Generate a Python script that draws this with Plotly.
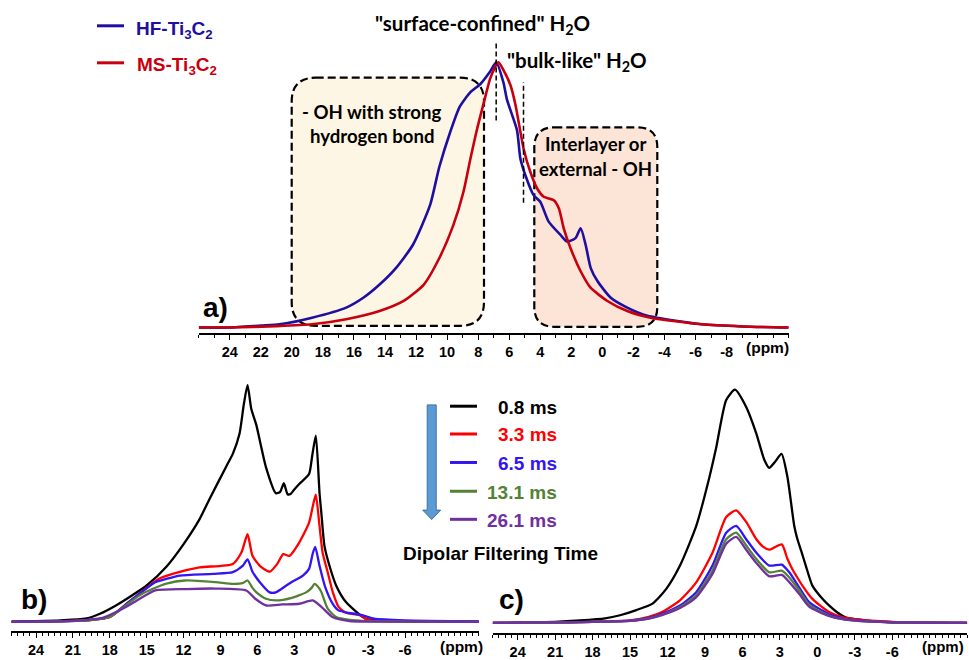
import plotly.graph_objects as go

W, H = 969, 660

# ---------------- panel a) data (ppm, intensity, peak = 100) ----------------
a_hf_ppm = [26, 24, 22, 20.8, 18.7, 16.5, 15.4, 14.35, 13.3, 12.2, 11.1, 10.5, 9.8, 9.2, 8.5, 7.87, 7.23, 6.84,
            6.37, 6.15, 5.5, 5.28, 4.96, 4.43, 4.0, 3.46, 2.7, 2.27, 1.73, 1.4, 1.08, 0.75, 0.32, -0.54, -1.6,
            -2.9, -6.4, -9, -12]
a_hf_int = [0, 0, 0.75, 1.2, 3.7, 7.5, 11.2, 16.2, 22.4, 31.2, 46.1, 60.6, 73.7, 83.1, 88.7, 91.7, 96.5, 100,
            92.3, 86.0, 74.4, 63.6, 57.4, 49.9, 47.4, 39.9, 34.9, 32.4, 33.7, 37.4, 31.2, 22.4, 17.5, 11.2, 7.5,
            4.4, 1.2, 0.4, 0]
a_ms_ppm = [26, 24, 21, 18.7, 16.5, 14.35, 12.8, 11.5, 10.5, 9.6, 8.95, 8.5, 8.1, 7.66, 7.2, 6.7, 6.37, 5.93,
            5.6, 5.07, 4.64, 4.2, 3.78, 3.13, 2.8, 2.49, 2.05, 1.4, 0.76, -0.32, -1.6, -3.1, -6.4, -9, -12]
a_ms_int = [0, 0, 0.5, 1.2, 3.1, 6.2, 10.0, 16.2, 26.2, 38.6, 51.1, 63.6, 74.1, 84.2, 94.3, 100, 97.0, 91.5,
            84.0, 67.3, 58.6, 52.4, 49.3, 48.0, 44.9, 37.4, 29.9, 21.2, 15.0, 10.0, 6.2, 3.7, 1.2, 0.4, 0]

# ---------------- panel b) data ----------------
b_black_ppm = [26, 24, 22, 20, 18.8, 17.5, 16.2, 15.0, 13.4, 12.1, 10.7, 9.9, 8.5, 8.0, 7.45, 7.1, 6.8, 6.5,
               6.1, 5.3, 4.5, 4.15, 3.85, 3.55, 3.3, 3.0, 2.6, 1.8, 1.55, 1.25, 0.95, 0.8, 0.55, 0.14, -0.4,
               -1.2, -2.8, -4, -6, -9, -12]
b_black_int = [0.3, 0.5, 0.8, 1.5, 3.6, 7.1, 11.3, 15.5, 23.4, 32.2, 43.5, 51.9, 66.0, 71.0, 79.6, 92, 100, 90,
               83.4, 65.3, 54.4, 55, 58.6, 54, 54.1, 56, 58.3, 62.5, 70, 78.7, 54.5, 46, 32.2, 23.8, 15.5,
               8.5, 1.5, 0.8, 0.5, 0.4, 0.3]
b_red_ppm = [26, 22, 19.5, 18, 16.7, 15.6, 14.0, 12.9, 10.7, 8.0, 7.3, 6.8, 6.4, 5.8, 5.0, 4.4, 3.9, 3.4, 2.6,
             1.8, 1.45, 1.25, 0.95, 0.7, 0.28, -0.13, -0.6, -1.2, -2.3, -3, -6, -12]
b_red_int = [0.2, 0.4, 1.0, 2.2, 7.5, 12, 18.3, 20.4, 23.1, 24.6, 29.4, 37.1, 28, 23.8, 21.3, 24.5, 28.7, 28,
             33.6, 42, 50, 53.8, 40.6, 29.4, 21, 12.7, 6.5, 4.0, 3.0, 1.0, 0.4, 0.2]
b_blue_ppm = [26, 22, 19.5, 18, 16.7, 15.6, 14.3, 13.4, 12.3, 9.6, 8.0, 7.2, 6.8, 6.4, 5.8, 5.0, 4.5, 3.7, 3.2,
              2.3, 1.8, 1.5, 1.3, 0.95, 0.5, -0.1, -0.6, -1.2, -2.5, -3.5, -6, -12]
b_blue_int = [0.3, 0.5, 1.0, 2.2, 7.5, 12, 16.9, 18.3, 19.7, 20.4, 21.1, 23.8, 26.5, 21.3, 16.9, 12.6, 12.6,
              15.3, 17, 19.7, 22.5, 29, 31.8, 23.8, 15, 8, 5.0, 4.2, 3.0, 1.5, 0.8, 0.4]
b_green_ppm = [26, 22, 19.5, 18, 16.7, 15.6, 14.5, 13.4, 11.9, 9.4, 8.0, 7.2, 6.8, 6.4, 6.1, 5.3, 4.5, 3.2, 2.0,
               1.6, 1.35, 1.0, 0.8, 0.28, -0.4, -1.5, -3, -6, -12]
b_green_int = [0.2, 0.4, 0.9, 2.2, 7.1, 11.3, 14.1, 16.3, 17.6, 16.9, 16.2, 16.5, 17.6, 14.5, 12.7, 9.9, 9.2,
               10.3, 12.7, 14.5, 16.2, 14.5, 12.7, 5.7, 2.2, 1.0, 0.5, 0.3, 0.2]
b_purple_ppm = [26, 22, 20, 18.6, 17.4, 16.2, 14.3, 11.8, 9.4, 6.9, 6.2, 5.3, 4.0, 2.6, 1.5, 0.8, -0.1, -1.5,
                -3, -6, -12]
b_purple_int = [0.2, 0.4, 0.9, 1.8, 4.5, 7.9, 13.4, 14.0, 14.2, 13.4, 10.0, 7.1, 7.5, 7.8, 9.2, 6.5, 2.2, 0.5,
                0.3, 0.3, 0.2]

# ---------------- panel c) data ----------------
c_black_ppm = [26, 24.4, 21, 19, 17, 15.8, 14.5, 13.2, 12.1, 11.0, 9.7, 8.65, 8.1, 7.3, 6.6, 5.7, 4.9, 4.25,
               3.85, 3.4, 2.87, 2.4, 1.85, 1.6, 1.3, 0.93, 0.4, -0.3, -0.93, -1.6, -2.3, -4, -6, -9, -12]
c_black_int = [0, 0.1, 0.5, 1.1, 2.0, 3.3, 5.5, 8.3, 14.6, 24.6, 41.6, 62.4, 75.2, 95.6, 100, 92.6, 81.4, 70,
               66.5, 69, 72.5, 62.7, 41.6, 36, 31, 24.6, 16, 11, 7.5, 4.5, 2.3, 1.0, 0.3, 0.1, 0]
c_red_ppm = [26, 20, 18, 15, 13.5, 12.4, 11, 9.7, 8.4, 7.3, 6.5, 5.7, 4.9, 4.3, 3.85, 2.85, 2.4, 2.0, 1.7, 1.2,
             0.4, -0.9, -2, -3, -6, -12]
c_red_int = [0, 0.3, 0.5, 1.1, 2.6, 4.8, 9.7, 17.4, 30.1, 45.4, 48.3, 43.3, 36.0, 32.5, 31.4, 33.7, 27.5, 23,
             20.3, 16.0, 10.3, 4.8, 2.5, 1.6, 0.5, 0]
c_ppm = [26, 20, 18, 15, 13.5, 12.4, 11, 9.7, 8.4, 7.3, 6.5, 5.7, 4.9, 3.85, 2.85, 2.25, 1.46, 0.66, -0.9, -2,
         -3, -6, -12]
c_blue_int = [0, 0.3, 0.5, 1.0, 2.2, 4.0, 7.5, 13.2, 24.6, 38.7, 41.6, 35.9, 30.2, 24.6, 25.0, 21.7, 15.3, 8.9,
              3.8, 2.0, 1.2, 0.3, 0]
c_green_int = [0, 0.3, 0.5, 0.9, 2.0, 3.6, 6.8, 11.9, 22.5, 35.9, 38.7, 33.2, 27.5, 21.7, 22.4, 19.5, 14.0,
               7.8, 3.2, 1.7, 1.0, 0.3, 0]
c_purple_int = [0, 0.3, 0.5, 0.9, 1.9, 3.5, 6.4, 11.0, 21.0, 34.0, 36.9, 31.4, 25.8, 20.0, 20.6, 17.5, 12.5,
                7.0, 3.0, 1.6, 1.0, 0.3, 0]

# ---------------- labels ----------------
a_tick_vals = [24, 22, 20, 18, 16, 14, 12, 10, 8, 6, 4, 2, 0, -2, -4, -6, -8]
a_tick_text = ["24", "22", "20", "18", "16", "14", "12", "10", "8", "6", "4", "2", "0", "-2", "-4", "-6", "-8"]
bc_tick_vals = [24, 21, 18, 15, 12, 9, 6, 3, 0, -3, -6]
bc_tick_text = ["24", "21", "18", "15", "12", "9", "6", "3", "0", "-3", "-6"]
series_names = ["0.8 ms", "3.3 ms", "6.5 ms", "13.1 ms", "26.1 ms"]
series_colors = ["#000000", "#FF0000", "#3314F2", "#548235", "#7030A0"]
HF_COLOR = "#1E0FA0"
MS_COLOR = "#C8000E"

ARIAL = "Liberation Sans, Arial, sans-serif"
CALIBRI = "Lato, Open Sans, sans-serif"

fig = go.Figure()


def add(xs, ys, color, xa, ya, width=2.3):
    fig.add_trace(go.Scatter(x=xs, y=ys, mode="lines", xaxis=xa, yaxis=ya, showlegend=False,
                             hoverinfo="skip",
                             line=dict(color=color, width=width, shape="spline", smoothing=0.6)))


add(a_hf_ppm, a_hf_int, HF_COLOR, "x", "y", 2.6)
add(a_ms_ppm, a_ms_int, MS_COLOR, "x", "y", 2.6)

b_sets = [(b_black_ppm, b_black_int), (b_red_ppm, b_red_int), (b_blue_ppm, b_blue_int),
          (b_green_ppm, b_green_int), (b_purple_ppm, b_purple_int)]
for (xs, ys), col in zip(b_sets, series_colors):
    add(xs, ys, col, "x2", "y2", 2.3)

c_sets = [(c_black_ppm, c_black_int), (c_red_ppm, c_red_int), (c_ppm, c_blue_int),
          (c_ppm, c_green_int), (c_ppm, c_purple_int)]
for (xs, ys), col in zip(c_sets, series_colors):
    add(xs, ys, col, "x3", "y3", 2.3)

tickfont = dict(family=ARIAL, size=14.5, color="black", weight="bold")


def xax(domain, anchor, vals, text, minor_dtick):
    return dict(domain=domain, anchor=anchor, range=[26, -12], showline=True, linecolor="black",
                linewidth=1.5, ticks="outside", ticklen=5, tickwidth=1.2, tickcolor="black",
                tickmode="array", tickvals=vals, ticktext=text, tickfont=tickfont,
                showgrid=False, zeroline=False, fixedrange=True,
                minor=dict(ticks="outside", ticklen=3, tickwidth=1, tickcolor="black",
                           tickmode="linear", tick0=0, dtick=minor_dtick, showgrid=False))


def yax(domain, rng):
    return dict(domain=domain, range=rng, visible=False, fixedrange=True)


def P(x, y):
    return x / W, 1 - y / H


shapes = []


def rounded(x0, y0, x1, y1, r, fill):
    def p(x, y):
        X, Y = P(x, y)
        return f"{X:.5f},{Y:.5f}"
    path = (f"M {p(x0 + r, y0)} L {p(x1 - r, y0)} Q {p(x1, y0)} {p(x1, y0 + r)} "
            f"L {p(x1, y1 - r)} Q {p(x1, y1)} {p(x1 - r, y1)} L {p(x0 + r, y1)} "
            f"Q {p(x0, y1)} {p(x0, y1 - r)} L {p(x0, y0 + r)} Q {p(x0, y0)} {p(x0 + r, y0)} Z")
    shapes.append(dict(type="path", xref="paper", yref="paper", path=path, fillcolor=fill,
                       line=dict(color="black", width=2.2, dash="8px,4px"), layer="below"))


rounded(291.7, 78.3, 484, 328.3, 24, "#FDF6E4")
rounded(534.3, 128.3, 657.3, 329.3, 20, "#FCE4D6")

# dashed markers in panel a (data coordinates)
shapes.append(dict(type="line", xref="x", yref="y", x0=6.84, x1=6.84, y0=78, y1=108,
                   line=dict(color="black", width=1.5, dash="5px,3px")))
shapes.append(dict(type="line", xref="x", yref="y", x0=5.08, x1=5.08, y0=47, y1=92.5,
                   line=dict(color="black", width=1.5, dash="5px,3px")))

# legend lines for panel a
for yy, col in [(26, HF_COLOR), (63.3, MS_COLOR)]:
    x0, y0 = P(97, yy)
    x1, _ = P(124, yy)
    shapes.append(dict(type="line", xref="paper", yref="paper", x0=x0, x1=x1, y0=y0, y1=y0,
                       line=dict(color=col, width=3)))

# legend lines for panel b/c
leg_y = [409.3, 437.3, 466, 495, 523.3]
for yy, col in zip(leg_y, series_colors):
    x0, y0 = P(450, yy)
    x1, _ = P(477, yy)
    shapes.append(dict(type="line", xref="paper", yref="paper", x0=x0, x1=x1, y0=y0, y1=y0,
                       line=dict(color=col, width=3)))


def ap(x, y):
    X, Y = P(x, y)
    return f"{X:.5f},{Y:.5f}"


arrow = (f"M {ap(427.2, 408)} L {ap(436.2, 408)} L {ap(436.2, 514)} L {ap(440.7, 514)} "
         f"L {ap(431.7, 523.5)} L {ap(422.7, 514)} L {ap(427.2, 514)} Z")
shapes.append(dict(type="path", xref="paper", yref="paper", path=arrow, fillcolor="#5B9BD5",
                   line=dict(color="#41719C", width=1)))

annotations = []


def text(x, y, t, size, color="black", family=ARIAL, xanchor="center"):
    X, Y = P(x, y)
    annotations.append(dict(x=X, y=Y, xref="paper", yref="paper", text=t, showarrow=False,
                            xanchor=xanchor, yanchor="middle",
                            font=dict(family=family, size=size, color=color)))


text(482, 25, '<b>"surface-confined" H<sub>2</sub>O</b>', 20.5, family=CALIBRI)
text(577, 62, '<b>"bulk-like" H<sub>2</sub>O</b>', 20.5, family=CALIBRI)
text(371.7, 113, "<b>- OH with strong</b>", 18.6, family=CALIBRI)
text(371.7, 137, "<b>hydrogen bond</b>", 18.6, family=CALIBRI)
text(595, 145, "<b>Interlayer or</b>", 18.6, family=CALIBRI)
text(595, 170, "<b>external - OH</b>", 18.6, family=CALIBRI)

text(134, 30, "<b>HF-Ti<sub>3</sub>C<sub>2</sub></b>", 19, HF_COLOR, xanchor="left")
text(135, 67, "<b>MS-Ti<sub>3</sub>C<sub>2</sub></b>", 19, MS_COLOR, xanchor="left")

for yy, name, col in zip(leg_y, series_names, series_colors):
    text(559, yy + 1, f"<b>{name}</b>", 19, col, xanchor="right")
text(500, 558, "<b>Dipolar Filtering Time</b>", 19)

text(215, 310, "<b>a)</b>", 28)
text(34, 604, "<b>b)</b>", 28)
text(512, 604, "<b>c)</b>", 28)

text(767, 350, "<b>(ppm)</b>", 15.5)
text(461.7, 651, "<b>(ppm)</b>", 15.5)
text(966, 651, "<b>(ppm)</b>", 15, xanchor="right")

fig.update_layout(
    width=W, height=H, margin=dict(l=0, r=0, t=0, b=0),
    paper_bgcolor="white", plot_bgcolor="rgba(0,0,0,0)",
    showlegend=False,
    xaxis=xax([198.7 / W, 788.7 / W], "y", a_tick_vals, a_tick_text, 1),
    yaxis=yax([1 - 335.7 / H, 1.0], [-2.132, 123.46]),
    xaxis2=xax([11.4 / W, 478.8 / W], "y2", bc_tick_vals, bc_tick_text, 0.5),
    yaxis2=yax([1 - 636 / H, 1 - 370 / H], [-3.766, 107.53]),
    xaxis3=xax([492.7 / W, 967.2 / W], "y3", bc_tick_vals, bc_tick_text, 0.5),
    yaxis3=yax([1 - 637.7 / H, 1 - 370 / H], [-4.255, 109.66]),
    shapes=shapes, annotations=annotations,
)

fig.write_html("out.html", config={"displayModeBar": False},
               post_script="document.body.style.margin='0';document.body.style.padding='0';"
                           "document.body.style.overflow='hidden';")
